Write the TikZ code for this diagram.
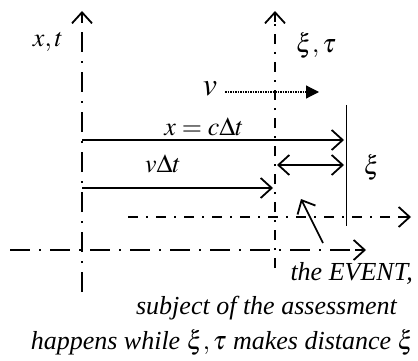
\documentclass[tikz,border=0pt]{standalone}
\usepackage{mathptmx}
\usepackage{fontspec}
\setmainfont{Liberation Serif}
\usetikzlibrary{arrows.meta}

\begin{document}
\begin{tikzpicture}[
  x=1pt, y=-1pt,
  font=\fontsize{26}{30}\selectfont\itshape,
  restaxis/.style={line width=1.6pt, dash pattern=on 20pt off 9pt on 2pt off 9pt},
  moveaxis/.style={line width=1.6pt, dash pattern=on 10pt off 8pt on 2pt off 8pt},
  barb/.tip={Straight Barb[length=11pt,width=20pt,line width=1.8pt]},
  axisbarb/.tip={Straight Barb[length=11pt,width=20pt,line width=1.8pt]},
  openhead/.style={-barb},
  axishead/.style={line width=1.6pt, -axisbarb},
  span/.style={line width=1.6pt},
  lbl/.style={inner sep=0pt},
]
\useasboundingbox (0,0) rectangle (418,361);

% frames
\coordinate (xt0) at (82,292);
\coordinate (xth) at (82,22);
\coordinate (xt1) at (82,11);
\coordinate (xi0) at (275,268);
\coordinate (xih) at (275,22);
\coordinate (xi1) at (275,11);
\coordinate (xa0) at (10,250);
\coordinate (xah) at (355,250);
\coordinate (xa1) at (366,250);
\coordinate (xb0) at (128,217);
\coordinate (xbh) at (400,217);
\coordinate (xb1) at (411,217);
\draw[restaxis] (xt0) -- (xth);
\draw[axishead] (xth) -- (xt1);
\draw[moveaxis] (xi0) -- (xih);
\draw[axishead] (xih) -- (xi1);
\draw[restaxis] (xa0) -- (xah);
\draw[axishead] (xah) -- (xa1);
\draw[moveaxis] (xb0) -- (xbh);
\draw[axishead] (xbh) -- (xb1);

\node[lbl] (lxt) at (48,42) {$x,t$};
\node[lbl] (lxi) at (316,46) {$\xi,\tau$};

% velocity
\node[lbl, font=\fontsize{32}{36}\selectfont] (lv) at (210,89) {$v$};
\coordinate (v0) at (225,92);
\coordinate (v1) at (319,92);
\draw[line width=1.2pt, dash pattern=on 1.5pt off 1pt, -{Triangle[length=13pt,width=13pt]}] (v0) -- (v1);

% distances
\coordinate (c0) at (82,140);
\coordinate (c1) at (344,140);
\coordinate (d0) at (82,188);
\coordinate (d1) at (273,188);
\coordinate (e0) at (277,165);
\coordinate (e1) at (344,165);
\draw[span, openhead] (c0) -- (c1);
\draw[span, openhead] (d0) -- (d1);
\draw[span, barb-barb] (e0) -- (e1);
\node[lbl] (lc) at (204,127) {$x=c\Delta t$};
\node[lbl] (ld) at (163,164) {$v\Delta t$};
\node[lbl] (le) at (372,168) {$\xi$};

\coordinate (m0) at (346,105);
\coordinate (m1) at (346,226);
\draw[line width=0.8pt] (m0) -- (m1);

% event
\coordinate (ev0) at (323,243);
\coordinate (ev1) at (301,199);
\draw[span, openhead] (ev0) -- (ev1);

\node[lbl, anchor=east] (t1) at (413,273) {the EVENT,};
\node[lbl, anchor=east] (t2) at (397,308) {subject of the assessment};
\node[lbl, anchor=east] (t3) at (414,343) {happens while $\xi,\tau$ makes distance $\xi$};
\end{tikzpicture}
\end{document}
